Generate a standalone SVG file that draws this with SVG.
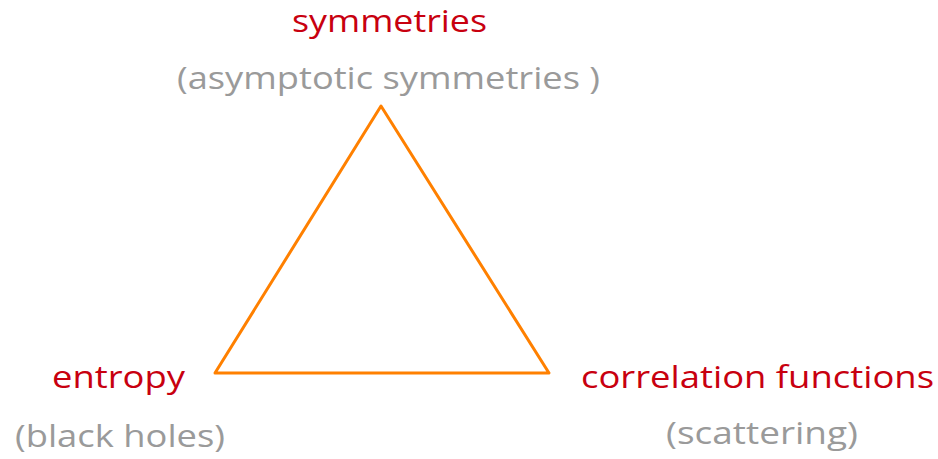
<svg xmlns="http://www.w3.org/2000/svg" width="938" height="459" viewBox="0 0 938 459">
<style>
.t{font-family:"Open Sans","Noto Sans","DejaVu Sans",sans-serif;font-size:31px}
.r{fill:#c8000f}
.g{fill:#9a9a9a}
.e{fill:none;stroke:#ff8000;stroke-width:3;stroke-linejoin:round}
</style>
<rect width="938" height="459" fill="#fff"/>
<g id="connectors">
<path class="e" d="M381,106 L549,373 L215,373 Z"/>
</g>
<g id="symmetries">
<text class="t r" x="292" y="32" textLength="195" lengthAdjust="spacingAndGlyphs">symmetries</text>
<text class="t g" x="177" y="89" textLength="423" lengthAdjust="spacingAndGlyphs">(asymptotic symmetries )</text>
</g>
<g id="entropy">
<text class="t r" x="52" y="388" textLength="133" lengthAdjust="spacingAndGlyphs">entropy</text>
<text class="t g" x="15" y="447" textLength="210" lengthAdjust="spacingAndGlyphs">(black holes)</text>
</g>
<g id="correlation">
<text class="t r" x="581" y="388" textLength="353" lengthAdjust="spacingAndGlyphs">correlation functions</text>
<text class="t g" x="666" y="444" textLength="192" lengthAdjust="spacingAndGlyphs">(scattering)</text>
</g>
</svg>
